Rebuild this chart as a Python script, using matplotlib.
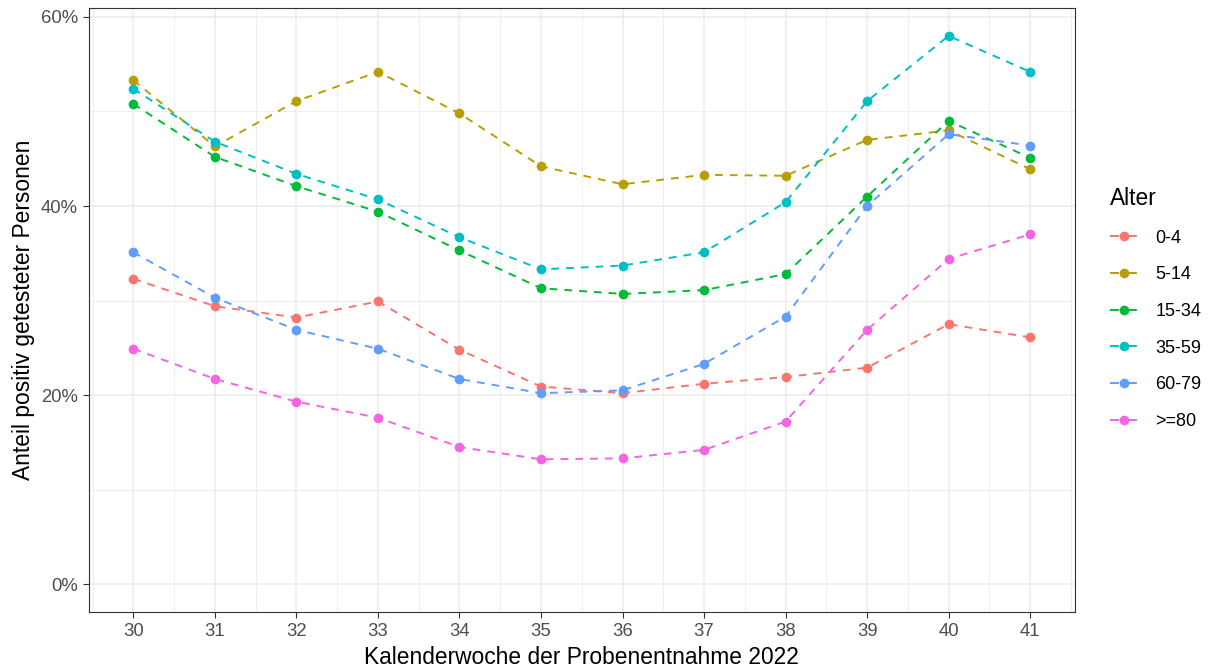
import matplotlib
matplotlib.use("Agg")

import matplotlib.pyplot as plt
import matplotlib.ticker as mticker
from matplotlib.lines import Line2D

plt.rcParams["font.family"] = ["Liberation Sans", "DejaVu Sans"]

# ── Data ───────────────────────────────────────────────────────────────────
weeks = [30, 31, 32, 33, 34, 35, 36, 37, 38, 39, 40, 41]
groups = ["0-4", "5-14", "15-34", "35-59", "60-79", ">=80"]

share_0_4   = [32.3, 29.4, 28.2, 29.9, 24.8, 20.9, 20.2, 21.2, 21.9, 22.9, 27.5, 26.1]
share_5_14  = [53.3, 46.3, 51.1, 54.2, 49.8, 44.2, 42.3, 43.3, 43.2, 47.0, 48.0, 43.9]
share_15_34 = [50.8, 45.2, 42.1, 39.4, 35.3, 31.3, 30.7, 31.1, 32.8, 41.0, 49.0, 45.1]
share_35_59 = [52.4, 46.8, 43.4, 40.7, 36.7, 33.3, 33.7, 35.1, 40.4, 51.1, 58.0, 54.2]
share_60_79 = [35.1, 30.3, 26.9, 24.9, 21.7, 20.2, 20.5, 23.3, 28.3, 40.0, 47.6, 46.4]
share_80    = [24.9, 21.7, 19.3, 17.6, 14.5, 13.2, 13.3, 14.2, 17.2, 26.9, 34.4, 37.0]

series = [share_0_4, share_5_14, share_15_34, share_35_59, share_60_79, share_80]

# ggplot default hue palette
colours = ["#F8766D", "#B79F00", "#00BA38", "#00BFC4", "#619CFF", "#F564E3"]

# ── Figure ─────────────────────────────────────────────────────────────────
fig = plt.figure(figsize=(12.12, 6.69), dpi=100)
ax = fig.add_axes([88.5 / 1212, 57.5 / 669, (1075 - 88.5) / 1212, (661 - 57.5) / 669])
ax.set_facecolor("white")

for label, vals, col in zip(groups, series, colours):
    ax.plot(weeks, vals, color=col, linewidth=1.4, linestyle=(0, (4, 3.6)),
            marker="o", markersize=7, markeredgewidth=0, label=label, zorder=3)

# Axes limits and ticks
ax.set_xlim(29.45, 41.55)
ax.set_ylim(-2.9, 60.95)
ax.xaxis.set_major_locator(mticker.FixedLocator(weeks))
ax.xaxis.set_minor_locator(mticker.MultipleLocator(0.5))
ax.yaxis.set_major_locator(mticker.MultipleLocator(20))
ax.yaxis.set_minor_locator(mticker.MultipleLocator(10))
ax.yaxis.set_major_formatter(mticker.FuncFormatter(lambda v, _: f"{v:.0f}%"))

ax.grid(True, which="major", color="#EBEBEB", linewidth=1.1, zorder=0)
ax.grid(True, which="minor", color="#EBEBEB", linewidth=0.6, zorder=0)
ax.set_axisbelow(True)

for sp in ax.spines.values():
    sp.set_color("#333333")
    sp.set_linewidth(0.8)

ax.tick_params(which="major", length=4, width=0.8, color="#333333",
               labelcolor="#4D4D4D", labelsize=13.3)
ax.tick_params(axis="x", which="major", pad=4.5)
ax.tick_params(axis="y", which="major", pad=3.5)
ax.tick_params(which="minor", length=0)

ax.set_xlabel("Kalenderwoche der Probenentnahme 2022", fontsize=16.4, color="black", labelpad=4)
ax.set_ylabel("Anteil positiv getesteter Personen", fontsize=16.4, color="black", labelpad=4)

# Legend (key: short line with gaps round the dot, like the ggplot key)
handles = [Line2D([], [], color=c, linewidth=1.4, linestyle=(0, (4.6, 4.6)),
                  marker="o", markersize=7, markeredgewidth=0) for c in colours]
leg = fig.legend(handles, groups, title="Alter", loc="upper left",
                 bbox_to_anchor=(1101 / 1212, 1 - 178 / 669), borderpad=0,
                 frameon=False, fontsize=13, title_fontsize=16.4,
                 handlelength=1.5, handletextpad=1.0, labelspacing=1.09)
leg._legend_box.align = "left"

fig.savefig("out.png", dpi=100, facecolor="white")
plt.close(fig)
